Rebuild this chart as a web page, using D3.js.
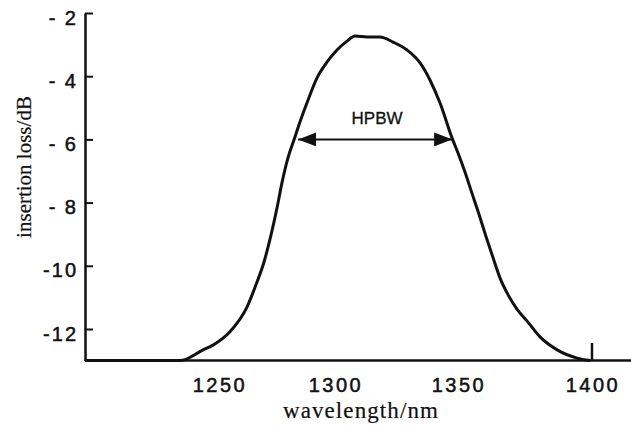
<!DOCTYPE html>
<html>
<head>
<meta charset="utf-8">
<script src="https://cdn.jsdelivr.net/npm/d3@7"></script>
<style>
    body { margin: 0; background: #fff; }
    .tick-label { font-family: "Liberation Sans", Arial, sans-serif; font-size: 20px; fill: #111; stroke: #111; stroke-width: 0.5px; letter-spacing: 2px; }
    .axis-title { font-family: "Liberation Serif", "Times New Roman", serif; font-size: 21px; fill: #111; stroke: #111; stroke-width: 0.2px; }
    .note { font-family: "Liberation Sans", Arial, sans-serif; font-size: 17px; fill: #111; stroke: #111; stroke-width: 0.3px; }
</style>
</head>
<body>
<div id="chart"></div>
<script>
//insertion loss vs wavelength

// the spectrum
let wavelength = [1192, 1220.1, 1233.1, 1243.1, 1247.4, 1254.7, 1262.1, 1265.9, 1269.4, 1272.4, 1275, 1277.2,
    1279.7, 1282.3, 1284.9, 1287.9, 1292.2, 1296.6, 1300.8, 1304.9, 1308.1, 1313, 1318.3, 1323.6,
    1329.3, 1334.6, 1338.6, 1342.7, 1347.6, 1350, 1352.6, 1355.2, 1357.8, 1360.4, 1363.1, 1365.7,
    1368.7, 1372, 1375.8, 1380.6, 1387, 1394.4, 1399.3];
let loss = [-13, -13, -13, -12.66, -12.51, -12.09, -11.3, -10.61, -9.88, -9.03, -8.17, -7.35,
    -6.59, -6.02, -5.45, -4.85, -4.06, -3.55, -3.17, -2.89, -2.73, -2.76, -2.76, -2.92,
    -3.17, -3.58, -4.12, -4.85, -5.96, -6.43, -7.03, -7.7, -8.36, -9.06, -9.75, -10.39,
    -10.92, -11.37, -11.75, -12.25, -12.66, -12.92, -13];

let xTicks = [1250, 1300, 1350, 1400];
let yTicks = [-2, -4, -6, -8, -10, -12];

// half power band width marker
let hpbwEnds = [1284.1, 1347.6];
let hpbwLevel = -6;
let hpbwText = "HPBW";

let width = 631, height = 426;

let svg = d3.select("#chart").append("svg")
    .attr("width", width)
    .attr("height", height);

// the printed axis is not evenly spaced, so a piecewise scale is used
let x = d3.scaleLinear()
    .domain([1192, 1250, 1300, 1350, 1400, 1414.5])
    .range([85, 219, 335, 458, 592, 631]);

let y = d3.scaleLinear()
    .domain([-2, -13])
    .range([13, 360.6]);

let defs = svg.append("defs");
defs.append("marker")
    .attr("id", "head")
    .attr("viewBox", "0 0 18 14")
    .attr("refX", 18).attr("refY", 7)
    .attr("markerWidth", 18).attr("markerHeight", 14)
    .attr("markerUnits", "userSpaceOnUse")
    .attr("orient", "auto-start-reverse")
    .append("path")
    .attr("d", "M0,0 L18,7 L0,14 Z")
    .attr("fill", "#111");

// y axis, ticks point inwards
let yAxis = svg.append("g")
    .attr("transform", "translate(85,0)")
    .call(d3.axisRight(y).tickValues(yTicks).tickSize(8).tickSizeOuter(0).tickFormat(""));
yAxis.select(".domain").attr("stroke", "#111").attr("stroke-width", 2.5);
yAxis.selectAll(".tick line").attr("stroke", "#111").attr("stroke-width", 2);

svg.append("g").selectAll("text")
    .data(yTicks)
    .enter().append("text")
    .attr("class", "tick-label")
    .attr("x", 78)
    .attr("y", d => y(d) + 11.5)
    .attr("text-anchor", "end")
    .text(d => Math.abs(d) < 10 ? "- " + Math.abs(d) : "-" + Math.abs(d));

// x axis: only a baseline, plus the one mark at 1400
let xAxis = svg.append("g")
    .attr("transform", "translate(0,360)")
    .call(d3.axisBottom(x).tickValues([]).tickSizeOuter(0));
xAxis.select(".domain").attr("stroke", "#111").attr("stroke-width", 2.5);

svg.append("line")
    .attr("x1", x(1400)).attr("x2", x(1400))
    .attr("y1", 360).attr("y2", 343)
    .attr("stroke", "#111").attr("stroke-width", 2.5);

svg.append("g").selectAll("text")
    .data(xTicks)
    .enter().append("text")
    .attr("class", "tick-label")
    .attr("x", d => x(d) + 1)
    .attr("y", 392)
    .attr("text-anchor", "middle")
    .attr("style", "letter-spacing:2.5px")
    .text(d => d);

// axis titles
svg.append("text")
    .attr("class", "axis-title")
    .attr("transform", "translate(31,167) rotate(-90)")
    .attr("text-anchor", "middle")
    .text("insertion loss/dB");

svg.append("text")
    .attr("class", "axis-title")
    .attr("x", 361).attr("y", 418)
    .attr("text-anchor", "middle")
    .attr("style", "font-size:23px;letter-spacing:1.1px")
    .text("wavelength/nm");

// the spectrum itself
let pts = wavelength.map((w, i) => [w, loss[i]]);
let line = d3.line()
    .x(d => x(d[0]))
    .y(d => y(d[1]))
    .curve(d3.curveMonotoneX);

svg.append("path")
    .datum(pts)
    .attr("d", line)
    .attr("fill", "none")
    .attr("stroke", "#111")
    .attr("stroke-width", 3)
    .attr("stroke-linejoin", "round");

// HPBW arrow
svg.append("line")
    .attr("x1", x(hpbwEnds[0])).attr("x2", x(hpbwEnds[1]))
    .attr("y1", y(hpbwLevel)).attr("y2", y(hpbwLevel))
    .attr("stroke", "#111").attr("stroke-width", 2)
    .attr("marker-start", "url(#head)")
    .attr("marker-end", "url(#head)");

svg.append("text")
    .attr("class", "note")
    .attr("x", (x(hpbwEnds[0]) + x(hpbwEnds[1])) / 2 + 2)
    .attr("y", 124)
    .attr("text-anchor", "middle")
    .text(hpbwText);
</script>
</body>
</html>
